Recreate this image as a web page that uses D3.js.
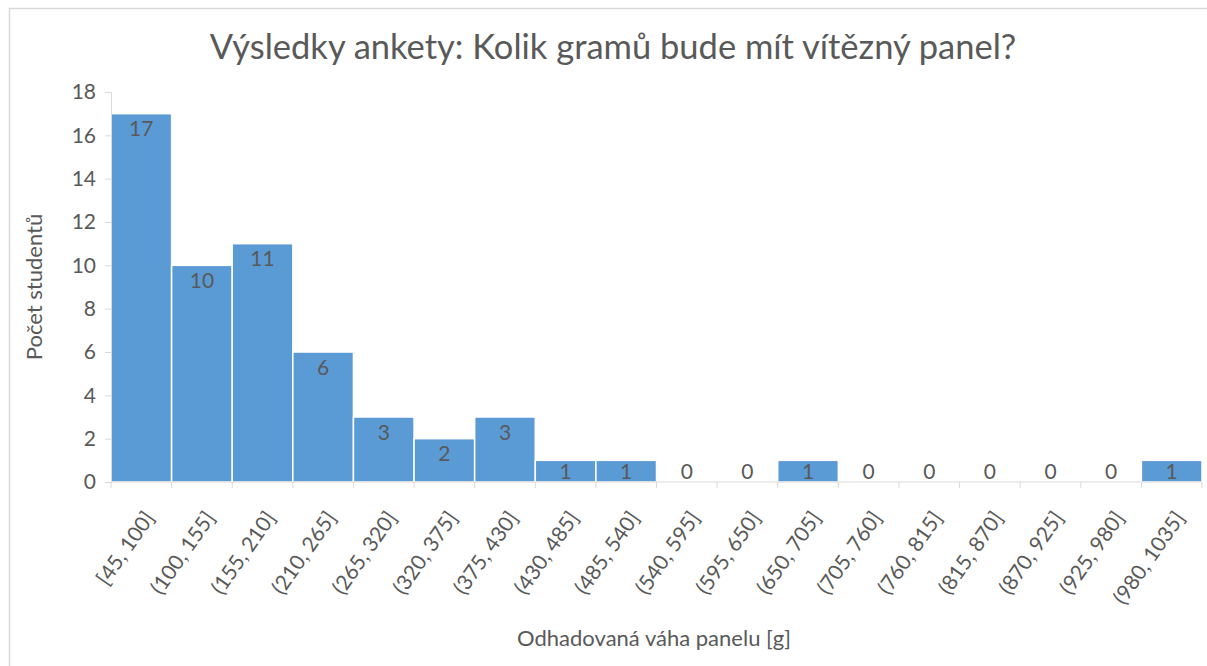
<!DOCTYPE html>
<html>
<head>
<meta charset="utf-8">
<script src="https://cdn.jsdelivr.net/npm/d3@7"></script>
<style>
  body { margin: 0; background: #fff; }
  text { font-family: Lato, "Noto Sans", sans-serif; fill: #595959; }
</style>
</head>
<body>
<svg id="chart" width="1207" height="666"></svg>
<script>
// histogram of poll answers
const bins = ["[45, 100]", "(100, 155]", "(155, 210]", "(210, 265]", "(265, 320]", "(320, 375]",
              "(375, 430]", "(430, 485]", "(485, 540]", "(540, 595]", "(595, 650]", "(650, 705]",
              "(705, 760]", "(760, 815]", "(815, 870]", "(870, 925]", "(925, 980]", "(980, 1035]"]
const counts = [17, 10, 11, 6, 3, 2, 3, 1, 1, 0, 0, 1, 0, 0, 0, 0, 0, 1]
const yTicks = [0, 2, 4, 6, 8, 10, 12, 14, 16, 18]

const layout = {"left": 111, "right": 1202, "top": 92, "bottom": 482}

const svg = d3.select("#chart")

// chart frame
svg.append("rect")
   .attr("x", 9.5).attr("y", 8.5)
   .attr("width", 1220).attr("height", 680)
   .attr("fill", "none")
   .attr("stroke", "#d9d9d9")
   .attr("stroke-width", 1.5)

const xScale = d3.scaleBand()
                 .domain(bins)
                 .range([layout.left, layout.right])
                 .padding(0)

const yScale = d3.scaleLinear()
                 .domain([0, 18])
                 .range([layout.bottom, layout.top])

// bars
svg.append("g")
   .selectAll("rect")
   .data(counts)
   .join("rect")
   .attr("x", (d, i) => xScale(bins[i]))
   .attr("width", xScale.bandwidth())
   .attr("y", d => yScale(d))
   .attr("height", d => yScale(0) - yScale(d))
   .attr("fill", "#5b9bd5")
   .attr("stroke", "#fff")
   .attr("stroke-width", 1.5)

// y axis
const yAxis = svg.append('g')
                 .attr('transform', `translate(${layout.left}, 0)`)
                 .call(d3.axisLeft(yScale).tickValues(yTicks).tickSize(6).tickPadding(9))
yAxis.select(".domain").attr("stroke", "#d9d9d9")
yAxis.selectAll(".tick line").attr("stroke", "#d9d9d9")
yAxis.selectAll(".tick text")
     .style("font-size", "21px")
     .style("font-family", "Lato, sans-serif")
     .attr("fill", "#595959")

// x axis, ticks on bin edges
const xAxis = svg.append('g')
                 .attr('transform', `translate(0, ${layout.bottom})`)
xAxis.append("line")
     .attr("x1", layout.left).attr("x2", layout.right)
     .attr("stroke", "#d9d9d9")
xAxis.selectAll(".edge")
     .data(d3.range(bins.length + 1))
     .join("line")
     .attr("class", "edge")
     .attr("x1", i => i < bins.length ? xScale(bins[i]) : layout.right)
     .attr("x2", i => i < bins.length ? xScale(bins[i]) : layout.right)
     .attr("y1", 0).attr("y2", 6)
     .attr("stroke", "#d9d9d9")
xAxis.selectAll(".lbl")
     .data(bins)
     .join("text")
     .attr("class", "lbl")
     .attr("text-anchor", "end")
     .attr("transform", d => `translate(${xScale(d) + xScale.bandwidth() / 2 + 14}, 36) rotate(-55)`)
     .style("font-size", "21px")
     .text(d => d)

// data labels
svg.append("g")
   .selectAll("text")
   .data(counts)
   .join("text")
   .attr("text-anchor", "middle")
   .attr("x", (d, i) => xScale(bins[i]) + xScale.bandwidth() / 2)
   .attr("y", d => Math.min(yScale(d) + 15, yScale(0) - 11))
   .attr("dy", "0.36em")
   .style("font-size", "21px")
   .text(d => d)

// titles
svg.append("text")
   .attr("text-anchor", "middle")
   .attr("x", 613)
   .attr("y", 59)
   .style("font-size", "34.5px")
   .text("Výsledky ankety: Kolik gramů bude mít vítězný panel?")

svg.append("text")
   .attr("text-anchor", "middle")
   .attr("transform", "translate(42, 287) rotate(-90)")
   .style("font-size", "22px")
   .text("Počet studentů")

svg.append("text")
   .attr("text-anchor", "middle")
   .attr("x", 654)
   .attr("y", 646)
   .style("font-size", "22px")
   .text("Odhadovaná váha panelu [g]")
</script>
</body>
</html>
